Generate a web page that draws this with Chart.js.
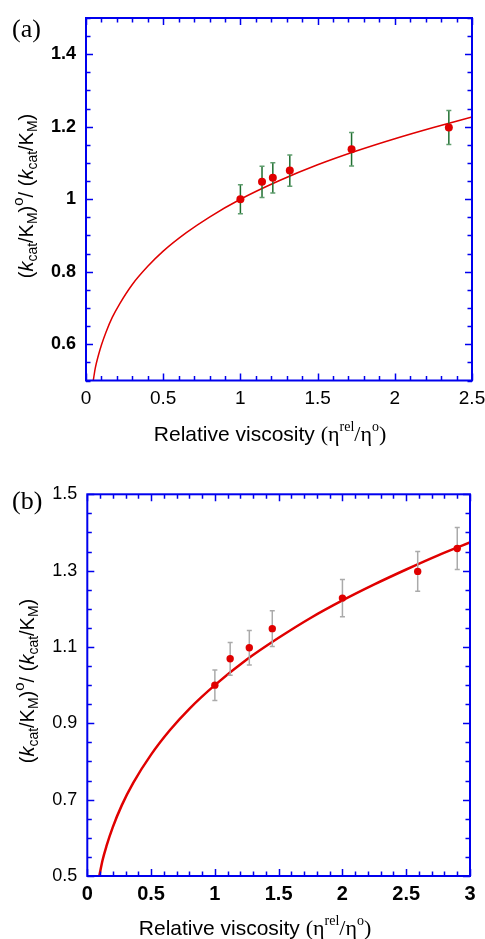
<!DOCTYPE html>
<html><head><meta charset="utf-8">
<script src="https://cdn.jsdelivr.net/npm/chart.js@4.4.0/dist/chart.umd.min.js"></script>
<style>
html,body{margin:0;padding:0;background:#fff;width:485px;height:939px;overflow:hidden;}
canvas{display:block;position:absolute;left:0;}
</style></head><body>
<canvas id="cA" width="485" height="450" style="top:0px;width:485px;height:450px"></canvas>
<canvas id="cB" width="485" height="489" style="top:450px;width:485px;height:489px"></canvas>
<script>
// ---------- Panel (a) data ----------
const aViscosity = [1.0, 1.14, 1.21, 1.32, 1.72, 2.35];
const aRatio     = [1.0, 1.048, 1.059, 1.079, 1.138, 1.198];
const aError     = [0.040, 0.043, 0.042, 0.043, 0.046, 0.047];
const aFitX = [0.047, 0.06, 0.08, 0.10, 0.13, 0.17, 0.22, 0.30, 0.40, 0.50, 0.65, 0.80, 1.00, 1.25, 1.50, 1.75, 2.00, 2.25, 2.50];
const aFitY = [0.500, 0.534, 0.569, 0.598, 0.634, 0.674, 0.713, 0.765, 0.815, 0.857, 0.908, 0.951, 1.000, 1.051, 1.095, 1.133, 1.167, 1.198, 1.227];
const aXTicks = [0, 0.5, 1, 1.5, 2, 2.5];
const aXTickLabels = ['0', '0.5', '1', '1.5', '2', '2.5'];
const aYTicks = [0.6, 0.8, 1.0, 1.2, 1.4];
const aYTickLabels = ['0.6', '0.8', '1', '1.2', '1.4'];

// ---------- Panel (b) data ----------
const bViscosity = [1.0, 1.12, 1.27, 1.45, 2.0, 2.59, 2.9];
const bRatio     = [1.0, 1.069, 1.098, 1.148, 1.228, 1.298, 1.358];
const bError     = [0.040, 0.043, 0.045, 0.047, 0.049, 0.052, 0.055];
const bFitX = [0.094, 0.12, 0.15, 0.20, 0.27, 0.36, 0.50, 0.65, 0.80, 1.00, 1.25, 1.50, 1.75, 2.00, 2.25, 2.50, 2.75, 3.00];
const bFitY = [0.500, 0.542, 0.578, 0.628, 0.685, 0.744, 0.818, 0.883, 0.938, 1.000, 1.067, 1.124, 1.176, 1.222, 1.264, 1.303, 1.340, 1.374];
const bXTicks = [0, 0.5, 1, 1.5, 2, 2.5, 3];
const bXTickLabels = ['0', '0.5', '1', '1.5', '2', '2.5', '3'];
const bYTicks = [0.5, 0.7, 0.9, 1.1, 1.3, 1.5];
const bYTickLabels = ['0.5', '0.7', '0.9', '1.1', '1.3', '1.5'];

const SANS = "'Liberation Sans', Arial, Helvetica, sans-serif";
const SERIF = "'Liberation Serif', 'Times New Roman', serif";

function drawRich(ctx, segs, x, y, rotate) {
  ctx.save();
  ctx.translate(x, y);
  if (rotate) ctx.rotate(-Math.PI / 2);
  ctx.textBaseline = 'alphabetic';
  ctx.textAlign = 'left';
  let total = 0;
  segs.forEach(s => { ctx.font = s.f; s.w = ctx.measureText(s.t).width; total += s.w; });
  let cx = -total / 2;
  segs.forEach(s => {
    ctx.font = s.f;
    ctx.fillStyle = '#000';
    ctx.fillText(s.t, cx, s.dy || 0);
    cx += s.w;
  });
  ctx.restore();
}

function yTitleSegs() {
  const m = '20px ' + SANS, it = 'italic 20px ' + SANS, sm = '14px ' + SANS;
  return [
    {t: '(', f: m}, {t: 'k', f: it}, {t: 'cat', f: sm, dy: 4}, {t: '/K', f: m}, {t: 'M', f: sm, dy: 4}, {t: ')', f: m},
    {t: 'o', f: '15px ' + SANS, dy: -10}, {t: '/ (', f: m}, {t: 'k', f: it}, {t: 'cat', f: sm, dy: 4},
    {t: '/K', f: m}, {t: 'M', f: sm, dy: 4}, {t: ')', f: m}
  ];
}
function xTitleSegs() {
  const m = '21px ' + SANS, s = '22px ' + SERIF, sup = '14px ' + SERIF;
  return [
    {t: 'Relative viscosity ', f: m}, {t: '(\u03B7', f: s}, {t: 'rel', f: sup, dy: -10},
    {t: '/\u03B7', f: s}, {t: 'o', f: sup, dy: -10}, {t: ')', f: s}
  ];
}

const decorPlugin = {
  id: 'decor',
  beforeDatasetDraw(chart, args, opts) {
    if (args.index !== 1) return;
    const ctx = chart.ctx, xs = chart.scales.x, ys = chart.scales.y;
    ctx.save();
    ctx.lineWidth = 1.5;
    opts.ex.forEach((xv, i) => {
      const px = xs.getPixelForValue(xv);
      const top = ys.getPixelForValue(opts.ey[i] + opts.err[i]);
      const bot = ys.getPixelForValue(opts.ey[i] - opts.err[i]);
      ctx.strokeStyle = opts.barColor;
      ctx.beginPath(); ctx.moveTo(px, top); ctx.lineTo(px, bot); ctx.stroke();
      ctx.strokeStyle = opts.capColor;
      ctx.beginPath();
      ctx.moveTo(px - 2.5, top); ctx.lineTo(px + 2.5, top);
      ctx.moveTo(px - 2.5, bot); ctx.lineTo(px + 2.5, bot);
      ctx.stroke();
    });
    ctx.restore();
  },
  afterDraw(chart, args, opts) {
    const ctx = chart.ctx, xs = chart.scales.x, ys = chart.scales.y, a = chart.chartArea;
    ctx.save();
    ctx.strokeStyle = '#0000ee';
    ctx.lineWidth = 1.5;
    ctx.beginPath();
    for (let v = xs.min; v <= xs.max + 1e-9; v += opts.xMinor) {
      const major = opts.xMajor.some(m => Math.abs(m - v) < 1e-6);
      const L = major ? 7 : 4.5;
      const px = Math.round(xs.getPixelForValue(v)) + 0.5;
      ctx.moveTo(px, a.bottom); ctx.lineTo(px, a.bottom - L);
      ctx.moveTo(px, a.top); ctx.lineTo(px, a.top + L);
    }
    for (let v = ys.min; v <= ys.max + 1e-9; v += opts.yMinor) {
      const major = opts.yMajor.some(m => Math.abs(m - v) < 1e-6);
      const L = major ? 7 : 4.5;
      const py = Math.round(ys.getPixelForValue(v)) + 0.5;
      ctx.moveTo(a.left, py); ctx.lineTo(a.left + L, py);
      ctx.moveTo(a.right, py); ctx.lineTo(a.right - L, py);
    }
    ctx.stroke();
    ctx.lineWidth = 2;
    ctx.strokeRect(a.left, a.top, a.right - a.left, a.bottom - a.top);
    ctx.restore();
    drawRich(ctx, xTitleSegs(), opts.xt[0], opts.xt[1], false);
    drawRich(ctx, yTitleSegs(), opts.yt[0], opts.yt[1], true);
    ctx.save();
    ctx.font = '26px ' + SERIF;
    ctx.fillStyle = '#000';
    ctx.textBaseline = 'alphabetic';
    ctx.fillText(opts.panel, opts.pp[0], opts.pp[1]);
    ctx.restore();
  }
};

function makeChart(id, c) {
  return new Chart(document.getElementById(id), {
    type: 'scatter',
    data: {
      datasets: [
        {
          type: 'line',
          data: c.fx.map((x, i) => ({x: x, y: c.fy[i]})),
          borderColor: '#e00000',
          borderWidth: c.lineW,
          pointRadius: 0,
          tension: 0.4,
          cubicInterpolationMode: 'monotone',
          fill: false,
          order: 2
        },
        {
          type: 'scatter',
          data: c.ex.map((x, i) => ({x: x, y: c.ey[i]})),
          backgroundColor: '#e00000',
          borderWidth: 0,
          pointRadius: c.pr,
          order: 1
        }
      ]
    },
    options: {
      responsive: false,
      animation: false,
      events: [],
      layout: {padding: {left: 0, right: c.padR, top: c.padT, bottom: 0}},
      plugins: {
        legend: {display: false},
        tooltip: {enabled: false},
        decor: {
          ex: c.ex, ey: c.ey, err: c.err, barColor: c.barColor, capColor: c.capColor,
          xMinor: 0.1, yMinor: 0.05, xMajor: c.xt, yMajor: c.yt,
          xt: c.xTitle, yt: c.yTitle, panel: c.panel, pp: c.panelPos
        }
      },
      scales: {
        x: {
          type: 'linear', min: c.xMin, max: c.xMax,
          grid: {display: false, drawTicks: false}, border: {display: false},
          afterBuildTicks: s => { s.ticks = c.xt.map(v => ({value: v})); },
          afterFit: s => { s.height = c.xH; s.paddingLeft = 0; s.paddingRight = 0; },
          ticks: {
            autoSkip: false, maxRotation: 0, padding: c.xPad, color: '#000',
            font: {family: SANS, size: c.xFont, weight: c.xBold ? 'bold' : 'normal'},
            callback: (v, i) => c.xl[i]
          }
        },
        y: {
          type: 'linear', min: c.yMin, max: c.yMax,
          grid: {display: false, drawTicks: false}, border: {display: false},
          afterBuildTicks: s => { s.ticks = c.yt.map(v => ({value: v})); },
          afterFit: s => { s.width = c.yW; s.paddingTop = 0; s.paddingBottom = 0; },
          ticks: {
            autoSkip: false, padding: 10, color: '#000',
            font: {family: SANS, size: c.yFont, weight: c.yBold ? 'bold' : 'normal'},
            callback: (v, i) => c.yl[i]
          }
        }
      }
    },
    plugins: [decorPlugin]
  });
}

makeChart('cA', {
  fx: aFitX, fy: aFitY, ex: aViscosity, ey: aRatio, err: aError,
  xt: aXTicks, xl: aXTickLabels, yt: aYTicks, yl: aYTickLabels,
  xMin: 0, xMax: 2.5, yMin: 0.5, yMax: 1.5,
  lineW: 1.5, pr: 4, barColor: '#1f6e30', capColor: '#5f9e6e',
  padR: 13, padT: 18, yW: 86, xH: 69.5, xPad: 7, xFont: 19, xBold: false, yFont: 18, yBold: true,
  xTitle: [270, 441], yTitle: [33, 196], panel: '(a)', panelPos: [12, 37]
});
makeChart('cB', {
  fx: bFitX, fy: bFitY, ex: bViscosity, ey: bRatio, err: bError,
  xt: bXTicks, xl: bXTickLabels, yt: bYTicks, yl: bYTickLabels,
  xMin: 0, xMax: 3, yMin: 0.5, yMax: 1.5,
  lineW: 2.5, pr: 3.7, barColor: '#aaaaaa', capColor: '#aaaaaa',
  padR: 15, padT: 44.3, yW: 87.3, xH: 63, xPad: 6, xFont: 20, xBold: true, yFont: 18, yBold: false,
  xTitle: [255, 485], yTitle: [34, 231], panel: '(b)', panelPos: [12, 59]
});
</script>
</body></html>
